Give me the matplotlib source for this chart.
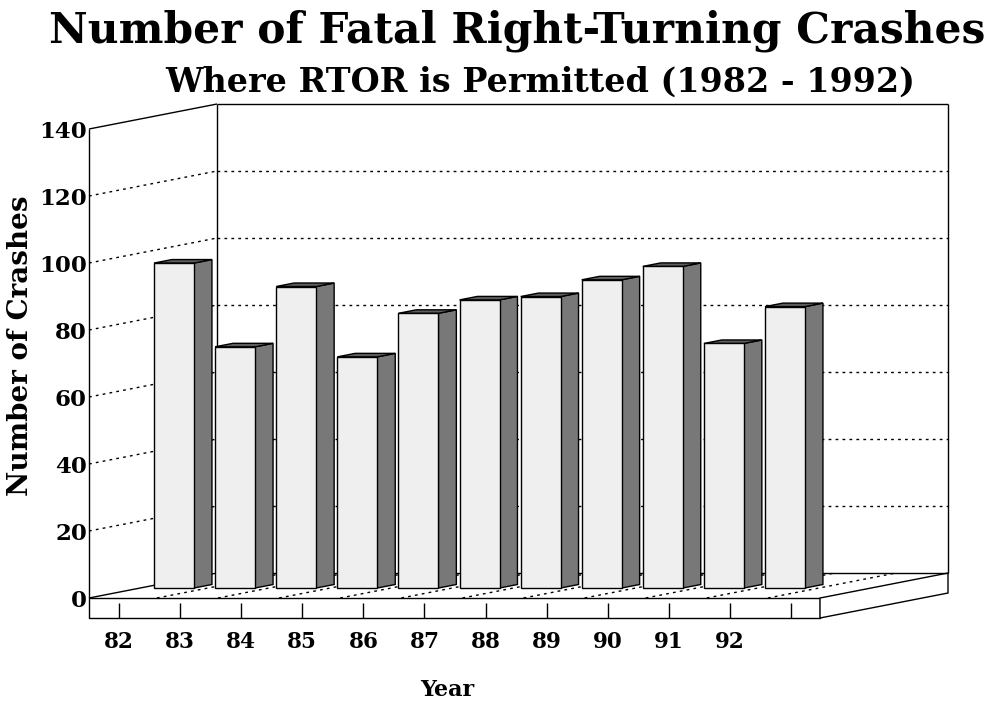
import numpy as np
import matplotlib.pyplot as plt
from matplotlib.patches import Polygon

# --------------------------------------------------
# Data
# --------------------------------------------------
years = ["82", "83", "84", "85", "86", "87", "88", "89", "90", "91", "92"]
crashes = [97, 72, 90, 69, 82, 86, 87, 92, 96, 73, 84]
y_ticks = [0, 20, 40, 60, 80, 100, 120, 140]

# --------------------------------------------------
# Pseudo-3D geometry (data units)
# --------------------------------------------------
depth_dx = 2.095      # horizontal shift of the back plane (categories)
depth_dy = 7.46       # vertical shift of the back plane (values)
bar_d0, bar_d1 = 0.40, 0.54
bar_offset = -0.265
bar_width = 0.655
floor_left, floor_right = -0.491, 11.473
floor_thick = 5.97
y_top = 140

FONT = "DejaVu Serif"
front_col = "#efefef"
side_col = "#787878"
top_col = "#5e5e5e"


def pt(x, y, d):
    return (x + d * depth_dx, y + d * depth_dy)


def seg(ax, p, q, **kw):
    ax.plot([p[0], q[0]], [p[1], q[1]], clip_on=False, **kw)


fig = plt.figure(figsize=(9.89, 7.06), dpi=100)
W, H = 989, 706
ax = fig.add_axes([89 / W, 88 / H, (948 - 89) / W, (618 - 102) / H])
ax.set_xlim(floor_left, floor_right + depth_dx)
ax.set_ylim(-floor_thick, 148.06)

solid = dict(color="black", lw=1.0, solid_capstyle="butt")
dotted = dict(color="black", lw=1.0, linestyle=(0, (2, 3)))

# walls
seg(ax, pt(floor_left, 0, 1), pt(floor_left, y_top, 1), **solid)
seg(ax, pt(floor_left, y_top, 1), pt(floor_right, y_top, 1), **solid)
seg(ax, pt(floor_right, y_top, 1), pt(floor_right, 0, 1), **solid)
seg(ax, pt(floor_left, 0, 1), pt(floor_right, 0, 1), **solid)
seg(ax, pt(floor_left, 0, 0), pt(floor_left, y_top, 0), **solid)
seg(ax, pt(floor_left, y_top, 0), pt(floor_left, y_top, 1), **solid)
seg(ax, pt(floor_left, 0, 0), pt(floor_left, 0, 1), **solid)

# grid lines
for v in y_ticks[1:-1]:
    seg(ax, pt(floor_left, v, 0), pt(floor_left, v, 1), **dotted)
    seg(ax, pt(floor_left, v, 1), pt(floor_right, v, 1), **dotted)

# floor slab
ax.add_patch(Polygon([(floor_left, -floor_thick), (floor_right, -floor_thick),
                      (floor_right, 0), (floor_left, 0)],
                     closed=True, facecolor="white", edgecolor="black", lw=1.0,
                     clip_on=False))
ax.add_patch(Polygon([pt(floor_right, 0, 0), pt(floor_right, 0, 1),
                      pt(floor_right, -floor_thick, 1), pt(floor_right, -floor_thick, 0)],
                     closed=True, facecolor="white", edgecolor="black", lw=1.0,
                     clip_on=False))

# dotted depth lines on the floor
for k in range(len(years)):
    seg(ax, pt(k + 0.62, 0, 0), pt(k + 0.62, 0, 1), **dotted)

# bars
for k, v in enumerate(crashes):
    x0 = k + bar_offset
    x1 = x0 + bar_width
    front = [pt(x0, 0, bar_d0), pt(x1, 0, bar_d0), pt(x1, v, bar_d0), pt(x0, v, bar_d0)]
    side = [pt(x1, 0, bar_d0), pt(x1, 0, bar_d1), pt(x1, v, bar_d1), pt(x1, v, bar_d0)]
    top = [pt(x0, v, bar_d0), pt(x1, v, bar_d0), pt(x1, v, bar_d1), pt(x0, v, bar_d1)]
    ax.add_patch(Polygon(side, closed=True, facecolor=side_col, edgecolor="black", lw=1.0, zorder=3))
    ax.add_patch(Polygon(top, closed=True, facecolor=top_col, edgecolor="black", lw=1.0, zorder=3))
    ax.add_patch(Polygon(front, closed=True, facecolor=front_col, edgecolor="black", lw=1.0, zorder=3))

# ticks and labels
for s in ax.spines.values():
    s.set_visible(False)
ax.set_xticks(range(len(years) + 1))
ax.set_xticklabels(years + [""], fontfamily=FONT, fontweight="bold", fontsize=15.5)
ax.set_yticks(y_ticks)
ax.set_yticklabels([str(t) for t in y_ticks], fontfamily=FONT, fontweight="bold", fontsize=16.5)
ax.tick_params(axis="x", direction="in", length=10.8, width=1.0, pad=9)
ax.tick_params(axis="y", length=0, pad=1.5)

fig.text(447 / W, 1 - 690 / H, "Year", fontfamily=FONT, fontweight="bold",
         fontsize=16, ha="center", va="center")
fig.text(21 / W, 1 - 346 / H, "Number of Crashes", fontfamily=FONT, fontweight="bold",
         fontsize=20, rotation=90, ha="center", va="center")

fig.text(517 / W, 1 - 31 / H, "Number of Fatal Right-Turning Crashes",
         fontfamily=FONT, fontweight="bold", fontsize=30.5, ha="center", va="center")
fig.text(540 / W, 1 - 82 / H, "Where RTOR is Permitted (1982 - 1992)",
         fontfamily=FONT, fontweight="bold", fontsize=24, ha="center", va="center")

fig.savefig("out.png", dpi=100)
